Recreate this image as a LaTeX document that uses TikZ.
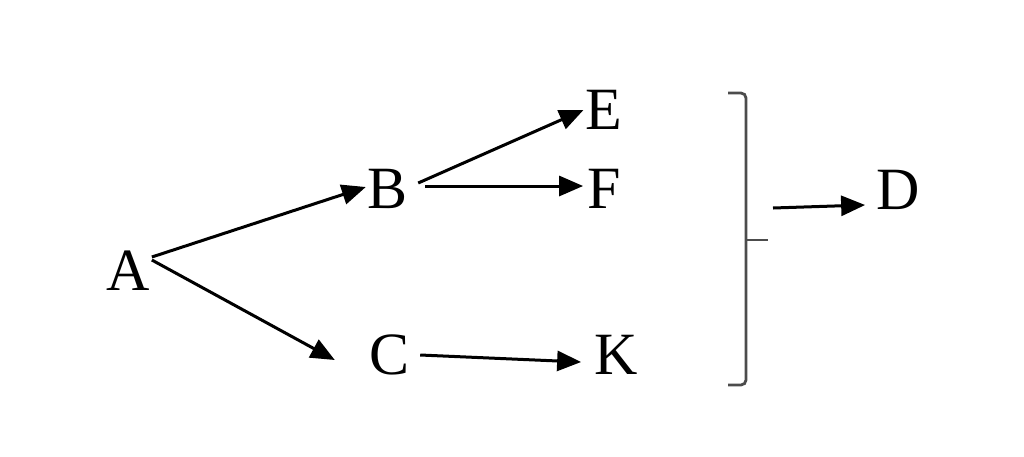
\documentclass[tikz,border=0pt]{standalone}
\usepackage{fontspec}
\setmainfont{Liberation Serif}
\usetikzlibrary{arrows.meta}

\tikzset{
  letter/.style={inner sep=2pt, font=\fontsize{60}{72}\selectfont},
  link/.style={line width=3pt, -{Triangle[length=24pt,width=20pt]}},
  bracket/.style={line width=2.8pt, black!70, rounded corners=5pt}
}

\begin{document}
\begin{tikzpicture}[x=1pt, y=-1pt]
		%%%%% START %%%%%
		\useasboundingbox (0,0) rectangle (1024,456);
		
		\node[letter] (A) at (128, 271) {A};
		\node[letter] (B) at (388, 189) {B};
		\node[letter] (C) at (390, 355) {C};
		\node[letter] (E) at (604, 110) {E};
		\node[letter] (F) at (604, 189) {F};
		\node[letter] (K) at (616, 355) {K};
		\node[letter] (D) at (898, 190) {D};
		
		\draw[link] ([yshift=14pt]A.east) -- ([yshift=2pt]B.west);
		\draw[link] ([yshift=11pt]A.east) -- ([xshift=-33pt, yshift=-5pt]C.west);
		\draw[link] ([xshift=8pt, yshift=6pt]B.east) -- (E.west);
		\draw[link] ([xshift=15pt, yshift=3pt]B.east) -- ([xshift=-2pt, yshift=3pt]F.west);
		\draw[link] ([xshift=8pt]C.east) -- ([xshift=-11pt, yshift=-7pt]K.west);
		
		% bracket
		\coordinate (top) at (728, 93);
		\coordinate (bot) at (728, 385);
		\coordinate (mid) at (746, 240);
		\draw[bracket] (top) -- (746, 93) -- (746, 385) -- (bot);
		\draw[bracket] (mid) -- ++(22, 0);
		
		\coordinate (out) at (773, 208);
		\draw[link] (out) -- ([xshift=-9pt, yshift=-15pt]D.west);
		
		%%%%% END %%%%%
\end{tikzpicture}
\end{document}
